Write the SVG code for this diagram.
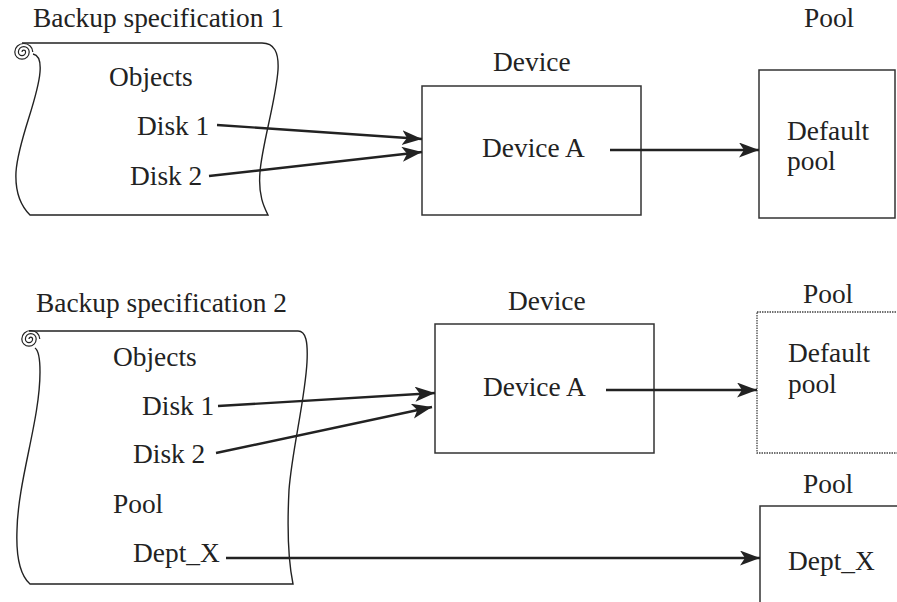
<svg xmlns="http://www.w3.org/2000/svg" width="897" height="602" viewBox="0 0 897 602">
<style>
text{font-family:"Liberation Serif","Times New Roman",serif;font-size:27.4px;fill:#222}
.box{fill:#fff;stroke:#333;stroke-width:1.5}
.dot{fill:#fff;stroke:#444;stroke-width:1.3;stroke-dasharray:1.5 1}
.scroll{fill:#fff;stroke:#222;stroke-width:1.4}
.sp{fill:none;stroke:#222;stroke-width:1.2}
.conn{stroke:#222;stroke-width:2.4;fill:none;marker-end:url(#ah)}
</style>
<defs>
<marker id="ah" markerUnits="userSpaceOnUse" markerWidth="22" markerHeight="16" refX="20" refY="7.5" orient="auto">
<path d="M0,0 L20,7.5 L0,15 L5,7.5 z" fill="#222"/>
</marker>
</defs>
<rect width="897" height="602" fill="#fff"/>
<g id="spec1">
<path class="scroll" d="M22,43 L262,43 C274,43 279,52 278,70 C276,100 262,145 260,172 C258,195 264,207 268,215 L30,215 C21,206 15,192 16,172 C18,140 38,100 40,72 C41,60 38,55 33,54"/>
<path class="sp" d="M22,52 a1.8,1.8 0 1 1 3.6,0 a3.6,3.6 0 1 1 -7.2,0 a5.4,5.4 0 1 1 10.8,0 a7.2,7.2 0 1 1 -14.4,0 a9,8.5 0 1 1 18,0"/>
<text x="33" y="27">Backup specification 1</text>
<text x="109" y="86">Objects</text>
<text x="137" y="135">Disk 1</text>
<text x="130" y="185">Disk 2</text>
</g>
<g id="device1">
<rect class="box" x="422" y="86" width="219" height="129"/>
<text x="493" y="71">Device</text>
<text x="482" y="157">Device A</text>
</g>
<g id="pool1">
<rect class="box" x="759" y="70" width="136" height="148"/>
<text x="804" y="27">Pool</text>
<text x="787" y="140">Default</text>
<text x="787" y="170">pool</text>
</g>
<g id="spec2">
<path class="scroll" d="M29,331 L298,331 C306,331 308,342 307,362 C305,400 292,450 289,490 C287,530 288,560 293,584 L30,584 C20,575 16,555 17,530 C18,480 40,420 40,372 C40,356 38,350 35,348"/>
<path class="sp" d="M29,339 a1.8,1.8 0 1 1 3.6,0 a3.6,3.6 0 1 1 -7.2,0 a5.4,5.4 0 1 1 10.8,0 a7.2,7.2 0 1 1 -14.4,0 a9,8.5 0 1 1 18,0"/>
<text x="36" y="312">Backup specification 2</text>
<text x="113" y="366">Objects</text>
<text x="142" y="415">Disk 1</text>
<text x="133" y="463">Disk 2</text>
<text x="113" y="513">Pool</text>
<text x="133" y="562">Dept_X</text>
</g>
<g id="device2">
<rect class="box" x="435" y="324" width="219" height="129"/>
<text x="508" y="310">Device</text>
<text x="483" y="396">Device A</text>
</g>
<g id="pool2">
<rect class="dot" x="757" y="312" width="150" height="141"/>
<text x="803" y="303">Pool</text>
<text x="788" y="362">Default</text>
<text x="788" y="393">pool</text>
</g>
<g id="pool3">
<rect class="box" x="760" y="506" width="150" height="110"/>
<text x="803" y="493">Pool</text>
<text x="788" y="570">Dept_X</text>
</g>
<g id="connectors">
<line class="conn" x1="217" y1="125" x2="422" y2="139"/>
<line class="conn" x1="209" y1="176" x2="422" y2="152"/>
<line class="conn" x1="610" y1="150" x2="759" y2="150"/>
<line class="conn" x1="218" y1="406" x2="435" y2="393"/>
<line class="conn" x1="216" y1="453" x2="432" y2="407"/>
<line class="conn" x1="606" y1="390" x2="757" y2="390"/>
<line class="conn" x1="226" y1="558" x2="760" y2="558"/>
</g>
</svg>
